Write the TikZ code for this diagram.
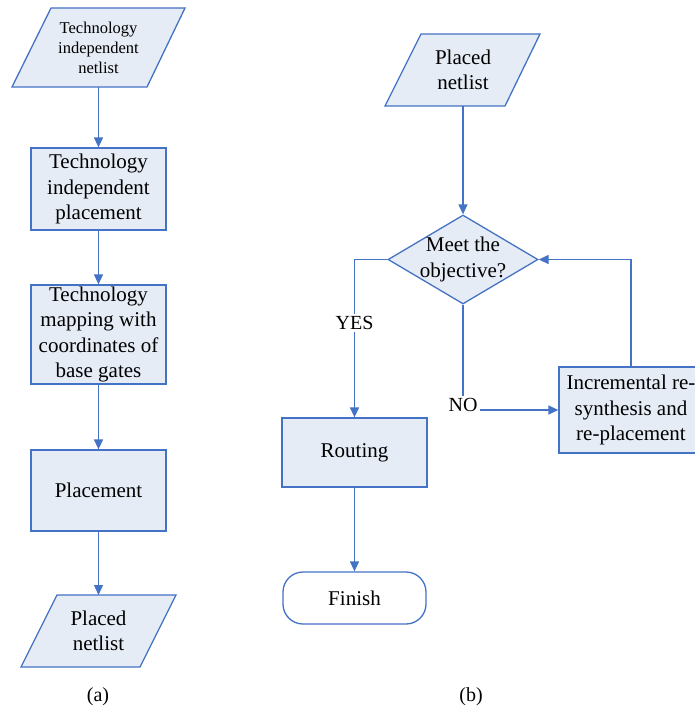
\documentclass[tikz,border=0pt]{standalone}
\usepackage{fontspec}
\newfontfamily\timesf{Liberation Serif}
\usetikzlibrary{arrows.meta,shapes.geometric}
\definecolor{edge}{RGB}{68,114,196}
\definecolor{boxfill}{RGB}{230,236,246}
\tikzset{
  every node/.style={font=\timesf},
  shp/.style={draw=edge,fill=boxfill,line width=1.3pt},
  txt/.style={align=center,font=\timesf\fontsize{21}{25.5}\selectfont,inner sep=0pt},
  smalltxt/.style={align=center,font=\timesf\fontsize{16.5}{20}\selectfont,inner sep=0pt},
  procbox/.style={shp,rectangle,align=center,font=\timesf\fontsize{21}{25.5}\selectfont,inner sep=0pt},
  decide/.style={shp,diamond,inner sep=0pt},
  term/.style={draw=edge,line width=1.3pt,rectangle,rounded corners=20pt,align=center,font=\timesf\fontsize{21}{25.5}\selectfont,inner sep=0pt},
  conn/.style={draw=edge,line width=1.3pt},
  arr/.style={conn,-{Triangle[length=10pt,width=9pt]}},
  lbl/.style={font=\timesf\fontsize{20}{24}\selectfont,inner sep=2pt}
}
\begin{document}
\begin{tikzpicture}[x=1pt,y=-1pt]
\useasboundingbox (0,0) rectangle (695,713);

% ---------- (a) ----------
\draw[shp] (51,8) -- (185,8) -- (147,87) -- (12,87) -- cycle;
\node[smalltxt] (a0) at (98.5,47.5) {Technology\\independent\\netlist};
\coordinate (a0b) at (98.5,87);

\node[procbox,minimum width=135pt,minimum height=82pt] (a1) at (98.5,189) {Technology\\independent\\placement};
\node[procbox,minimum width=135pt,minimum height=99pt] (a2) at (98.5,334.5) {Technology\\mapping with\\coordinates of\\base gates};
\node[procbox,minimum width=135pt,minimum height=81pt] (a3) at (98.5,490.5) {Placement};

\draw[shp] (57,595) -- (176,595) -- (140,667) -- (21,667) -- cycle;
\node[txt] (a4) at (98.5,631) {Placed\\netlist};
\coordinate (a4t) at (98.5,595);

\draw[arr] (a0b) -- (a1.north);
\draw[arr] (a1.south) -- (a2.north);
\draw[arr] (a2.south) -- (a3.north);
\draw[arr] (a3.south) -- (a4t);

\node[lbl] (capa) at (98,697) {(a)};

% ---------- (b) ----------
\draw[shp] (421,34) -- (540,34) -- (505,106) -- (385,106) -- cycle;
\node[txt] (b0) at (463,70) {Placed\\netlist};
\coordinate (b0b) at (463,106);

\node[decide,minimum width=150pt,minimum height=89pt,aspect=1.685] (b1) at (463,259.5) {};
\node[txt] (b1t) at (463,259.5) {Meet the\\objective?};

\node[procbox,minimum width=145pt,minimum height=69pt] (b2) at (354.5,452.5) {Routing};
\node[term,minimum width=143pt,minimum height=52pt] (b3) at (354.5,598) {Finish};
\node[procbox,minimum width=144pt,minimum height=86pt] (b4) at (631,410) {Incremental re-\\synthesis and\\re-placement};

\coordinate (yc) at (354.5,259.5);
\coordinate (lc) at (631,259.5);

\draw[arr] (b0b) -- (b1.north);
\draw[arr] (b1.west) -- (yc) -- (b2.north);
\node[lbl,fill=white] (yes) at (354.5,323) {YES};
\draw[arr] (b2.south) -- (b3.north);

\node[lbl] (no) at (463,405) {NO};
\draw[conn] (b1.south) -- (no.north);
\draw[arr] (no.east |- b4.west) -- (b4.west);

\draw[arr] (b4.north) -- (lc) -- (b1.east);

\node[lbl] (capb) at (471,697) {(b)};
\end{tikzpicture}
\end{document}
